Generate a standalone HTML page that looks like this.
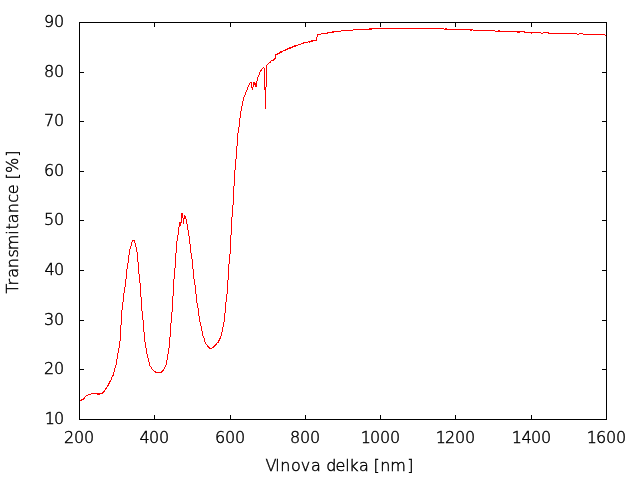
<!DOCTYPE html>
<html><head><meta charset="utf-8"><title>Transmitance</title>
<style>
html,body{margin:0;padding:0;background:#fff;}
body{width:640px;height:480px;overflow:hidden;}
svg{display:block;}
.t{will-change:transform;}
text{font-family:"DejaVu Sans","Liberation Sans",sans-serif;font-size:16px;font-weight:200;fill:#000;stroke:#000;stroke-width:0.45px;}
</style></head><body>
<svg width="640" height="480" viewBox="0 0 640 480">
<rect width="640" height="480" fill="#fff"/>
<g shape-rendering="crispEdges" stroke="#000" stroke-width="1" fill="none">
<rect x="79.5" y="22.5" width="527" height="397"/>
<path d="M79.5,419v-4M79.5,23v4M154.5,419v-4M154.5,23v4M230.5,419v-4M230.5,23v4M305.5,419v-4M305.5,23v4M380.5,419v-4M380.5,23v4M455.5,419v-4M455.5,23v4M531.5,419v-4M531.5,23v4M606.5,419v-4M606.5,23v4M80,419.5h4M606,419.5h-4M80,369.5h4M606,369.5h-4M80,320.5h4M606,320.5h-4M80,270.5h4M606,270.5h-4M80,220.5h4M606,220.5h-4M80,171.5h4M606,171.5h-4M80,121.5h4M606,121.5h-4M80,72.5h4M606,72.5h-4M80,22.5h4M606,22.5h-4"/>
</g>
<g class="t"><text x="64 74 84" y="443">200</text><text x="139.6 149 159" y="443">400</text><text x="215 225 235" y="443">600</text><text x="290 300 310" y="443">800</text><text x="360.7 370 380 390" y="443">1000</text><text x="435.7 445 455 465" y="443">1200</text><text x="511.7 521.6 531 541" y="443">1400</text><text x="586.7 596 606 616" y="443">1600</text></g>
<g class="t"><text x="44.7 54" y="424">10</text><text x="44 54" y="374">20</text><text x="44 54" y="325">30</text><text x="44.6 54" y="275">40</text><text x="44 54" y="225">50</text><text x="44 54" y="176">60</text><text x="44 54" y="126">70</text><text x="44 54" y="77">80</text><text x="44 54" y="27">90</text></g>
<g class="t"><text x="265.6 275.3 280.3 291.1 300.8 311 320.8 326.3 335.4 345.3 349.3 359 368.8 373.4 380.3 390.3 407.3" y="471">Vlnova delka [nm]</text>
<text transform="translate(18,0) rotate(-90)" x="-293.4 -285.4 -277.7 -268.2 -257.6 -250.2 -234.7 -229.5 -223.3 -213.3 -202.7 -194.3 -184.5 -179.6 -173.1 -156.7" y="0">Transmitance [%]</text></g>
<path shape-rendering="crispEdges" fill="#f00" d="M80 400h1v1h-1zM81 399h1v2h-1zM82 399h1v1h-1zM83 398h1v2h-1zM84 397h1v2h-1zM85 396h1v1h-1zM86 395h2v1h-2zM88 394h3v1h-3zM91 393h6v1h-6zM97 393h3v2h-3zM100 393h2v1h-2zM102 392h1v2h-1zM103 391h1v2h-1zM104 390h1v2h-1zM105 388h1v2h-1zM106 387h1v2h-1zM107 385h1v2h-1zM108 383h1v3h-1zM109 381h1v3h-1zM110 380h1v2h-1zM111 377h1v3h-1zM112 375h1v2h-1zM113 372h1v4h-1zM114 368h1v4h-1zM115 365h1v3h-1zM116 359h1v6h-1zM117 353h1v6h-1zM118 348h1v5h-1zM119 341h1v7h-1zM120 325h1v16h-1zM121 310h1v15h-1zM122 302h1v8h-1zM123 293h1v9h-1zM124 287h1v6h-1zM125 279h1v8h-1zM126 269h1v10h-1zM127 263h1v6h-1zM128 255h1v8h-1zM129 249h1v6h-1zM130 246h1v3h-1zM131 242h1v4h-1zM132 240h1v2h-1zM133 240h1v1h-1zM134 240h1v3h-1zM135 243h1v4h-1zM136 247h1v5h-1zM137 252h1v10h-1zM138 262h1v12h-1zM139 274h1v9h-1zM140 283h1v14h-1zM141 297h1v14h-1zM142 311h1v9h-1zM143 320h1v12h-1zM144 332h1v10h-1zM145 342h1v6h-1zM146 348h1v6h-1zM147 354h1v4h-1zM148 358h1v4h-1zM149 362h1v4h-1zM150 366h1v1h-1zM151 367h1v2h-1zM152 369h1v1h-1zM153 370h1v1h-1zM154 371h1v1h-1zM155 371h1v2h-1zM156 372h5v1h-5zM161 371h1v2h-1zM162 370h1v2h-1zM163 369h1v2h-1zM164 367h1v2h-1zM165 365h1v2h-1zM166 360h1v5h-1zM167 354h1v6h-1zM168 348h1v6h-1zM169 337h1v11h-1zM170 323h1v14h-1zM171 312h1v11h-1zM172 296h1v16h-1zM173 279h1v17h-1zM174 268h1v11h-1zM175 253h1v15h-1zM176 241h1v12h-1zM177 235h1v6h-1zM178 227h1v8h-1zM179 222h1v5h-1zM180 222h1v4h-1zM181 213h1v10h-1zM182 213h1v5h-1zM183 218h1v6h-1zM184 215h1v4h-1zM185 216h1v3h-1zM186 219h1v5h-1zM187 224h1v6h-1zM188 230h1v6h-1zM189 236h1v8h-1zM190 244h1v9h-1zM191 253h1v6h-1zM192 259h1v10h-1zM193 269h1v10h-1zM194 279h1v6h-1zM195 285h1v9h-1zM196 294h1v9h-1zM197 303h1v5h-1zM198 308h1v8h-1zM199 316h1v6h-1zM200 322h1v4h-1zM201 326h1v5h-1zM202 331h1v5h-1zM203 336h1v2h-1zM204 338h1v4h-1zM205 342h1v2h-1zM206 344h1v1h-1zM207 345h1v2h-1zM208 346h1v2h-1zM209 347h1v2h-1zM210 348h2v1h-2zM212 347h1v1h-1zM213 346h1v2h-1zM214 345h1v2h-1zM215 344h1v2h-1zM216 343h1v2h-1zM217 342h1v1h-1zM218 340h1v3h-1zM219 338h1v3h-1zM220 336h1v3h-1zM221 332h1v4h-1zM222 327h1v5h-1zM223 322h1v5h-1zM224 313h1v9h-1zM225 302h1v11h-1zM226 294h1v8h-1zM227 280h1v14h-1zM228 264h1v16h-1zM229 254h1v10h-1zM230 235h1v19h-1zM231 217h1v18h-1zM232 205h1v12h-1zM233 186h1v19h-1zM234 170h1v16h-1zM235 159h1v11h-1zM236 146h1v13h-1zM237 133h1v13h-1zM238 127h1v6h-1zM239 118h1v9h-1zM240 111h1v7h-1zM241 106h1v5h-1zM242 101h1v5h-1zM243 97h1v4h-1zM244 95h1v2h-1zM245 92h1v3h-1zM246 90h1v2h-1zM247 87h1v3h-1zM248 85h1v2h-1zM249 83h1v2h-1zM250 82h1v1h-1zM251 82h1v6h-1zM252 87h1v3h-1zM253 82h1v5h-1zM254 82h1v3h-1zM255 83h1v4h-1zM256 81h1v6h-1zM257 77h1v4h-1zM258 75h1v2h-1zM259 72h1v3h-1zM260 70h1v2h-1zM261 69h1v2h-1zM262 68h1v1h-1zM263 67h1v1h-1zM264 68h1v22h-1zM265 87h1v22h-1zM266 65h1v22h-1zM267 64h1v1h-1zM268 63h1v1h-1zM269 62h1v1h-1zM270 61h1v2h-1zM271 60h2v1h-2zM273 59h1v2h-1zM274 58h1v2h-1zM275 54h1v5h-1zM276 54h1v1h-1zM277 53h1v2h-1zM278 53h1v1h-1zM279 52h1v2h-1zM280 51h2v2h-2zM282 51h1v1h-1zM283 50h2v1h-2zM285 49h1v2h-1zM286 49h1v1h-1zM287 48h1v2h-1zM288 48h1v1h-1zM289 47h2v2h-2zM291 47h1v1h-1zM292 46h1v2h-1zM293 46h1v1h-1zM294 45h2v2h-2zM296 45h2v1h-2zM298 44h3v1h-3zM301 43h2v1h-2zM303 42h1v2h-1zM304 42h4v1h-4zM308 41h1v1h-1zM309 41h1v2h-1zM310 41h1v1h-1zM311 40h2v2h-2zM313 40h3v1h-3zM316 37h1v4h-1zM317 34h1v3h-1zM318 34h3v1h-3zM321 33h6v1h-6zM327 32h1v2h-1zM328 32h4v1h-4zM332 31h2v2h-2zM334 31h7v1h-7zM341 30h12v1h-12zM353 29h16v1h-16zM369 28h3v2h-3zM372 28h72v1h-72zM444 29h1v1h-1zM445 28h2v2h-2zM447 29h23v1h-23zM470 29h2v2h-2zM472 29h1v1h-1zM473 30h22v1h-22zM495 31h3v1h-3zM498 30h2v2h-2zM500 31h17v1h-17zM517 31h3v2h-3zM520 31h4v1h-4zM524 31h1v2h-1zM525 32h6v1h-6zM531 32h1v2h-1zM532 32h9v1h-9zM541 33h2v1h-2zM543 32h5v1h-5zM548 32h1v2h-1zM549 33h28v1h-28zM577 34h2v1h-2zM579 33h4v1h-4zM583 34h22v1h-22zM605 35h1v1h-1z"/>
</svg>
</body></html>
